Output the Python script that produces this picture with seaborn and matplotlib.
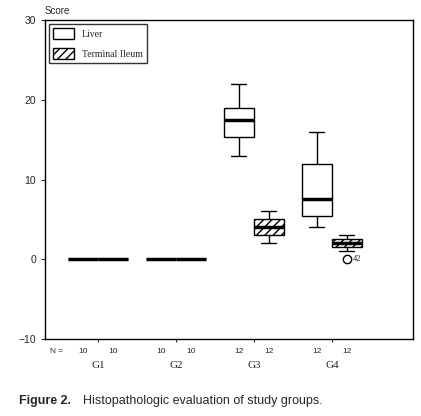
import matplotlib
matplotlib.use("Agg")
import matplotlib.pyplot as plt
import seaborn as sns
import pandas as pd
from matplotlib.patches import Patch

groups = ["G1", "G2", "G3", "G4"]
tissues = ["Liver", "Terminal Ileum"]
values = {
    ("G1", "Liver"): [0]*10,
    ("G1", "Terminal Ileum"): [0]*10,
    ("G2", "Liver"): [0]*10,
    ("G2", "Terminal Ileum"): [0]*10,
    ("G3", "Liver"): [13, 14, 15, 15.5, 16, 17, 18, 18, 19, 19, 20, 22],
    ("G3", "Terminal Ileum"): [2, 2, 3, 3, 3, 4, 4, 4, 5, 5, 6, 6],
    ("G4", "Liver"): [4, 4, 5, 5.5, 6, 7, 8, 10, 12, 12, 14, 16],
    ("G4", "Terminal Ileum"): [0, 1, 1.6, 1.6, 2, 2, 2, 2, 2.5, 2.5, 3, 3],
}
n_labels = ["10", "10", "10", "10", "12", "12", "12", "12"]

rows = [(g, t, v) for (g, t), vs in values.items() for v in vs]
df = pd.DataFrame(rows, columns=["group", "tissue", "score"])

sns.set_style("white")
plt.rcParams["font.family"] = ["Liberation Sans", "DejaVu Sans"]
fig = plt.figure(figsize=(4.21, 4.16), dpi=100)
ax = fig.add_axes([0.107, 0.185, 0.874, 0.767])

sns.boxplot(data=df, x="group", y="score", hue="tissue", order=groups,
            hue_order=tissues, palette=["white", "white"], width=0.77, gap=0,
            linecolor="black", linewidth=1,
            medianprops=dict(color="black", linewidth=2.5),
            flierprops=dict(marker="o", markersize=6, markerfacecolor="white",
                            markeredgecolor="black"),
            legend=False, ax=ax)
for i, p in enumerate(ax.patches):
    if i >= 4:
        p.set_hatch("////")
ax.text(3.19 + 0.08, 0, "42", fontsize=6, va="center", family=["Liberation Serif"])

ax.set_xlim(-0.68, 4.04)
ax.set_ylim(-10, 30)
ax.set_yticks([-10, 0, 10, 20, 30])
ax.tick_params(axis="y", labelsize=7.5, length=3, direction="out", left=True)
ax.tick_params(axis="x", length=2, direction="out", bottom=True, labelsize=8, pad=14)
ax.set_xticks(range(4))
ax.set_xticklabels(groups, family=["Liberation Serif"])
ax.set_xlabel("")
ax.set_ylabel("")
for s in ax.spines.values():
    s.set_color("black")
    s.set_linewidth(1)
ax.text(-0.68, 30.5, "Score", fontsize=7, va="bottom", ha="left")
ax.text(-0.62, -11.6, "N =", fontsize=6, ha="left", va="center")
for i in range(4):
    for j, off in enumerate([-0.19, 0.19]):
        ax.text(i + off, -11.6, n_labels[2*i + j], fontsize=6, ha="center", va="center")
for t in ax.texts[-9:]:
    t.set_clip_on(False)

handles = [Patch(facecolor="white", edgecolor="black", label="Liver"),
           Patch(facecolor="white", edgecolor="black", hatch="////", label="Terminal Ileum")]
ax.legend(handles=handles, loc="upper left", frameon=True, fancybox=False,
          edgecolor="black", prop={"family": "Liberation Serif", "size": 7},
          handlelength=2.2, handleheight=1.4, labelspacing=0.9, borderaxespad=0.4)

fig.text(0.045, 0.03, "Figure 2.", fontsize=9, fontweight="bold", ha="left")
fig.text(0.197, 0.03, "Histopathologic evaluation of study groups.", fontsize=9, ha="left")
fig.savefig("out.png", dpi=100)
